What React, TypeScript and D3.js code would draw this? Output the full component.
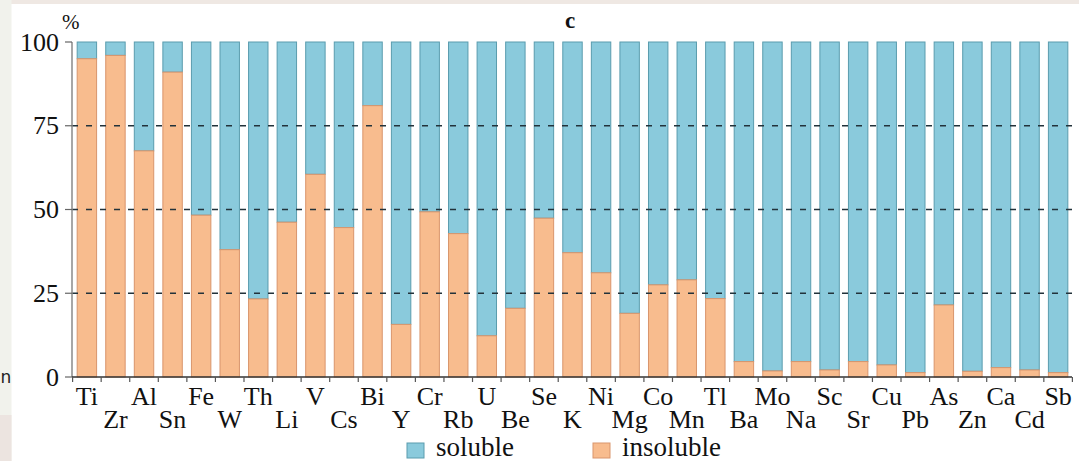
import React from "react";
import * as d3 from "d3";

const categories = ["Ti","Zr","Al","Sn","Fe","W","Th","Li","V","Cs","Bi","Y","Cr","Rb","U","Be","Se","K","Ni","Mg","Co","Mn","Tl","Ba","Mo","Na","Sc","Sr","Cu","Pb","As","Zn","Ca","Cd","Sb"];
const insoluble = [95,96,67.5,91,48.3,38,23.3,46.2,60.5,44.6,81,15.7,49.3,42.8,12.3,20.5,47.4,37.1,31.1,19,27.5,29,23.4,4.6,1.8,4.6,2.1,4.6,3.6,1.3,21.5,1.7,2.8,2.1,1.3];
const yTicks = [0, 25, 50, 75, 100];
const gridTicks = [25, 50, 75];
const seriesNames = ["soluble", "insoluble"];

const W = 1079, H = 461;
const BLUE = "#8acadc", BLUE_S = "#5a9cae";
const ORANGE = "#f8bc8e", ORANGE_S = "#d9956c";
const FONT = "'Liberation Serif', 'Times New Roman', serif";

export default function App() {
  const x = d3.scaleBand<string>().domain(categories).range([72.6, 1072.4]).paddingInner(0.32).paddingOuter(0.16);
  const y = d3.scaleLinear().domain([0, 100]).range([377, 42]);
  const step = x.step();
  const x0 = 72.6;
  const boundaries = d3.range(categories.length + 1).map((i) => x0 + i * step);

  return (
    <svg width={W} height={H} style={{ position: "absolute", left: 0, top: 0, background: "#fff" }}>
      {/* background fragments */}
      <rect x={0} y={0} width={W} height={4} fill="#efe8e3" />
      <rect x={0} y={0} width={11.5} height={H} fill="#f1f2ec" />
      <rect x={0} y={415} width={11.5} height={H - 415} fill="#ece4e0" />
      <text x={0.5} y={383} fontFamily="'DejaVu Sans', sans-serif" fontSize={17} fill="#222">n</text>

      {/* bars */}
      {categories.map((c, i) => (
        <g key={c}>
          <rect x={x(c)} y={y(100)} width={x.bandwidth()} height={y(insoluble[i]) - y(100)} fill={BLUE} stroke={BLUE_S} strokeWidth={1} />
          <rect x={x(c)} y={y(insoluble[i])} width={x.bandwidth()} height={y(0) - y(insoluble[i])} fill={ORANGE} stroke={ORANGE_S} strokeWidth={1} />
        </g>
      ))}

      {/* dashed grid */}
      {gridTicks.map((t) => (
        <line key={t} x1={72} x2={1072} y1={y(t)} y2={y(t)} stroke="#22323a" strokeWidth={1.6} strokeDasharray="6,8" />
      ))}

      {/* y axis */}
      <line x1={72} x2={72} y1={y(100)} y2={y(0)} stroke="#8a8a8a" strokeWidth={1.5} />
      {yTicks.map((t) => (
        <g key={t}>
          <line x1={65} x2={72} y1={y(t)} y2={y(t)} stroke="#666" strokeWidth={1.2} />
          <text x={59} y={y(t)} dy="0.33em" textAnchor="end" fontFamily={FONT} fontSize={26} fill="#111">{t}</text>
        </g>
      ))}
      <text x={62} y={29} fontFamily={FONT} fontSize={21} fill="#111">%</text>
      <text x={570} y={28} textAnchor="middle" fontFamily={FONT} fontSize={23} fontWeight="bold" fill="#111">c</text>

      {/* x axis */}
      <line x1={72} x2={1072} y1={y(0)} y2={y(0)} stroke="#333" strokeWidth={1.5} />
      {boundaries.map((b, i) => (
        <line key={i} x1={b} x2={b} y1={y(0)} y2={y(0) + 5} stroke="#555" strokeWidth={1.2} />
      ))}
      {categories.map((c, i) => (
        <text key={c} x={(x(c) as number) + x.bandwidth() / 2} y={i % 2 === 0 ? 405 : 428} textAnchor="middle" fontFamily={FONT} fontSize={26} fill="#111">{c}</text>
      ))}

      {/* legend */}
      {seriesNames.map((s, i) => (
        <g key={s} transform={`translate(${i === 0 ? 407 : 593},0)`}>
          <rect x={0} y={443} width={17} height={15} fill={i === 0 ? BLUE : ORANGE} stroke={i === 0 ? BLUE_S : ORANGE_S} strokeWidth={1} />
          <text x={29} y={456} fontFamily={FONT} fontSize={27} fill="#111">{s}</text>
        </g>
      ))}
    </svg>
  );
}
